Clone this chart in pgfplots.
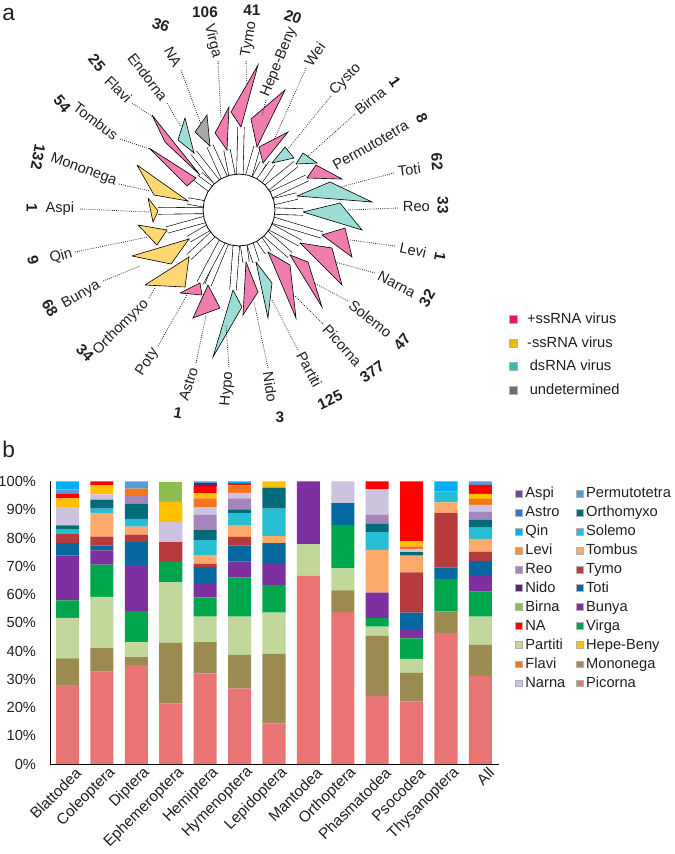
\documentclass[border=0pt]{standalone}
\usepackage{pgfplots}
\pgfplotsset{compat=1.18}
\usepackage{pgfplotstable}
\usepackage{fontspec}
\setmainfont{Liberation Sans}

% clade colours (tree) and legend colours
\definecolor{lab}{HTML}{231F20}
\definecolor{tP}{HTML}{F07DB0}
\definecolor{tY}{HTML}{FDD872}
\definecolor{tT}{HTML}{9CDED6}
\definecolor{tG}{HTML}{A8A8AA}
\definecolor{lP}{HTML}{D81E63}
\definecolor{lY}{HTML}{F5B51E}
\definecolor{lT}{HTML}{2FC0B0}
\definecolor{lG}{HTML}{707070}
% family colours (bars)
\definecolor{cPic}{HTML}{E87474}
\definecolor{cMon}{HTML}{9B8B50}
\definecolor{cPar}{HTML}{C2D79B}
\definecolor{cVir}{HTML}{00A64C}
\definecolor{cBun}{HTML}{7E2FA0}
\definecolor{cTot}{HTML}{0568A0}
\definecolor{cTym}{HTML}{B73B3B}
\definecolor{cTom}{HTML}{FBAA6C}
\definecolor{cLev}{HTML}{F6913D}
\definecolor{cSol}{HTML}{27BED4}
\definecolor{cOrt}{HTML}{006C7A}
\definecolor{cReo}{HTML}{A486BD}
\definecolor{cNar}{HTML}{CEC3DE}
\definecolor{cFla}{HTML}{F4761C}
\definecolor{cHep}{HTML}{FFC000}
\definecolor{cBir}{HTML}{8DBC4F}
\definecolor{cNA}{HTML}{FF0000}
\definecolor{cNid}{HTML}{4F2F6B}
\definecolor{cAst}{HTML}{2E78BE}
\definecolor{cAsp}{HTML}{6B4C8F}
\definecolor{cPer}{HTML}{5B9BD5}
\definecolor{cQin}{HTML}{00B0F0}

% share of each virus family per insect order, in percent
\pgfplotstableread{
x  Pic   Mon   Par   Vir   Bun   Tot  Tym  Tom  Lev Sol Ort Reo Nar Fla Hep Bir NA   Nid Ast Asp Per Qin
0  28.0  9.4   14.3  6.2   15.9  4.4  3.2  0    0   1.6 1.5 0   6.4 0   3.1 0   1.6  0   0   0   1.6 2.8
1  32.7  8.3   18.2  11.4  5.0   1.7  3.2  8.3  0   1.6 3.2 0   1.8 0   3.3 0   1.3  0   0   0   0   0
2  35.1  2.7   5.3   11.0  16.3  8.2  2.6  2.8  0   2.8 5.3 2.7 0   2.7 0   0   0    0   0   0   2.5 0
3  21.43 21.43 21.43 7.14  0     0    7.14 0    0   0   0   0   7.14 0  7.14 7.14 0  0   0   0   0   0
4  32.1  11.0  9.1   6.8   4.8   5.9  1.1  3.1  0   5.3 3.8 5.3 2.6 3.1 1.8 0   2.6  0.9 0   0   0.7 0
5  26.7  11.9  13.6  13.9  5.5   5.7  3.1  4.0  0   4.4 1.3 3.9 2.0 2.4 0.3 0   0.5  0   0.3 0   0   0.5
6  14.4  24.6  14.6  9.8   7.4   7.4  0    2.5  0   9.7 7.4 0   0   0   2.2 0   0    0   0   0   0   0
7  66.7  0     11.1  0     22.2  0    0    0    0   0   0   0   0   0   0   0   0    0   0   0   0   0
8  53.8  7.7   7.7   15.4  0     7.7  0    0    0   0   0   0   7.7 0   0   0   0    0   0   0   0   0
9  24.1  21.3  3.2   3.0   9.1   0    0    15.1 0   6.3 2.9 3.2 9.1 0   0   0   2.7  0   0   0   0   0
10 22.2  10.1  4.9   7.3   3.0   6.1  14.2 6.0  0   0   1.2 0   1.0 1.0 1.9 0   21.1 0   0   0   0   0
11 46.3  7.7   0     11.5  0     4.0  19.3 3.8  0   3.9 0   0   0   0   0   0   0    0   0   0   0   3.5
12 31.2  11.0  10.0  8.8   5.6   5.3  3.3  4.5  0   4.0 2.7 2.8 2.5 2.1 1.8 0   3.2  0   0   0   1.2 0
}\abund

\tikzset{
  br/.style={draw=black, line width=0.45pt, double=white, double distance=4.4pt},
  tri/.style={draw=black, line width=0.45pt},
  ldr/.style={densely dotted, line width=0.6pt, color=lab},
  lbl/.style={font=\fontsize{11}{13}\selectfont, text=lab, inner sep=0.5pt},
  cnt/.style={font=\fontsize{11.5}{13}\selectfont\bfseries, text=lab, inner sep=0pt},
}

\begin{document}
\begin{tikzpicture}
\path[use as bounding box] (0pt,0pt) rectangle (506.25pt,-640.5pt);

% ---------------- panel a: collapsed tree, pixel coordinates ----------------
\begin{axis}[
    at={(0pt,0pt)}, anchor=north west,
    scale only axis, width=506.25pt, height=345pt,
    xmin=0, xmax=675, ymin=0, ymax=460, y dir=reverse,
    enlargelimits=false, hide axis, clip=false,
]
% branches
\addplot[br] coordinates {(239,210) (200,175)};
\addplot[br] coordinates {(239,210) (196,178)};
\addplot[br] coordinates {(239,210) (194,153)};
\addplot[br] coordinates {(239,210) (210,146)};
\addplot[br] coordinates {(239,210) (227,150)};
\addplot[br] coordinates {(239,210) (241,127)};
\addplot[br] coordinates {(239,210) (257,147)};
\addplot[br] coordinates {(239,210) (263,163)};
\addplot[br] coordinates {(239,210) (272,163)};
\addplot[br] coordinates {(239,210) (296,164)};
\addplot[br] coordinates {(239,210) (307,178)};
\addplot[br] coordinates {(239,210) (297,196)};
\addplot[br] coordinates {(239,210) (303,212)};
\addplot[br] coordinates {(239,210) (322,235)};
\addplot[br] coordinates {(239,210) (300,243)};
\addplot[br] coordinates {(239,210) (290,255)};
\addplot[br] coordinates {(239,210) (268,252)};
\addplot[br] coordinates {(239,210) (256,262)};
\addplot[br] coordinates {(239,210) (246,262)};
\addplot[br] coordinates {(239,210) (233,290)};
\addplot[br] coordinates {(239,210) (208,285)};
\addplot[br] coordinates {(239,210) (200,283)};
\addplot[br] coordinates {(239,210) (189,257)};
\addplot[br] coordinates {(239,210) (189,239)};
\addplot[br] coordinates {(239,210) (167,230)};
\addplot[br] coordinates {(239,210) (158,211)};
\addplot[br] coordinates {(239,210) (188,201)};
% root circle
\addplot[fill=white, draw=black, line width=0.6pt] coordinates {
 (275,210) (273.8,200.7) (270.2,192) (264.5,184.5) (257,178.8) (248.3,175.2)
 (239,174) (229.7,175.2) (221,178.8) (213.5,184.5) (207.8,192) (204.2,200.7)
 (203,210) (204.2,219.3) (207.8,228) (213.5,235.5) (221,241.2) (229.7,244.8)
 (239,246) (248.3,244.8) (257,241.2) (264.5,235.5) (270.2,228) (273.8,219.3) (275,210)};
% clades
\addplot[tri, fill=tP] coordinates {(152,115) (165,142) (200,175) (152,115)}; % Flavi
\addplot[tri, fill=tP] coordinates {(149,148) (196,178) (187,186) (149,148)}; % Tombus
\addplot[tri, fill=tT] coordinates {(178,140) (185,118) (194,153) (178,140)}; % Endorna
\addplot[tri, fill=tG] coordinates {(195,132) (207,115) (210,146) (195,132)}; % NA
\addplot[tri, fill=tP] coordinates {(215,133) (229,107) (227,150) (215,133)}; % Virga
\addplot[tri, fill=tP] coordinates {(231,112) (258,65) (241,127) (231,112)}; % Tymo
\addplot[tri, fill=tP] coordinates {(251,119) (285,90) (257,147) (251,119)}; % Hepe-Beny
\addplot[tri, fill=tP] coordinates {(259,147) (288,132) (263,163) (259,147)}; % Wei
\addplot[tri, fill=tT] coordinates {(272,163) (285,147) (294,158) (272,163)}; % Cysto
\addplot[tri, fill=tT] coordinates {(296,164) (303,153) (317,163) (296,164)}; % Birna
\addplot[tri, fill=tP] coordinates {(307,178) (316,165) (342,179) (307,178)}; % Permutotetra
\addplot[tri, fill=tT] coordinates {(297,196) (330,182) (372,202) (297,196)}; % Toti
\addplot[tri, fill=tT] coordinates {(303,212) (340,203) (362,230) (303,212)}; % Reo
\addplot[tri, fill=tP] coordinates {(322,235) (345,228) (352,257) (322,235)}; % Levi
\addplot[tri, fill=tP] coordinates {(300,243) (332,248) (342,285) (300,243)}; % Narna
\addplot[tri, fill=tP] coordinates {(290,255) (308,262) (322,307) (290,255)}; % Solemo
\addplot[tri, fill=tP] coordinates {(268,252) (290,265) (296,318) (268,252)}; % Picorna
\addplot[tri, fill=tT] coordinates {(256,262) (272,283) (268,318) (256,262)}; % Partiti
\addplot[tri, fill=tP] coordinates {(246,262) (258,292) (243,315) (246,262)}; % Nido
\addplot[tri, fill=tT] coordinates {(233,290) (242,307) (213,357) (233,290)}; % Hypo
\addplot[tri, fill=tP] coordinates {(208,285) (220,308) (193,318) (208,285)}; % Astro
\addplot[tri, fill=tP] coordinates {(180,293) (200,283) (202,295) (180,293)}; % Poty
\addplot[tri, fill=tY] coordinates {(145,285) (189,257) (185,287) (145,285)}; % Orthomyxo
\addplot[tri, fill=tY] coordinates {(132,256) (189,239) (171,264) (132,256)}; % Bunya
\addplot[tri, fill=tY] coordinates {(138,225) (167,230) (157,245) (138,225)}; % Qin
\addplot[tri, fill=tY] coordinates {(148,198) (158,211) (153,222) (148,198)}; % Aspi
\addplot[tri, fill=tY] coordinates {(137,165) (188,201) (154,195) (137,165)}; % Mononega
% leader lines
\addplot[ldr] coordinates {(119,184) (150,191)};
\addplot[ldr] coordinates {(80,209) (149,212)};
\addplot[ldr] coordinates {(75,252) (148,237)};
\addplot[ldr] coordinates {(103,281) (140,266)};
\addplot[ldr] coordinates {(149,298) (155,288)};
\addplot[ldr] coordinates {(158,346) (188,293)};
\addplot[ldr] coordinates {(196,363) (206,316)};
\addplot[ldr] coordinates {(229,367) (226,325)};
\addplot[ldr] coordinates {(268,368) (254,302)};
\addplot[ldr] coordinates {(298,350) (272,300)};
\addplot[ldr] coordinates {(323,324) (295,296)};
\addplot[ldr] coordinates {(348,301) (314,283)};
\addplot[ldr] coordinates {(375,273) (335,262)};
\addplot[ldr] coordinates {(395,246) (350,240)};
\addplot[ldr] coordinates {(398,208) (347,210)};
\addplot[ldr] coordinates {(394,173) (340,187)};
\addplot[ldr] coordinates {(355,114) (308,156)};
\addplot[ldr] coordinates {(331,96) (287,150)};
\addplot[ldr] coordinates {(306,68) (274,140)};
\addplot[ldr] coordinates {(266,100) (262,116)};
\addplot[ldr] coordinates {(246,61) (247,84)};
\addplot[ldr] coordinates {(218,61) (221,118)};
\addplot[ldr] coordinates {(181,70) (201,124)};
\addplot[ldr] coordinates {(167,103) (181,127)};
\addplot[ldr] coordinates {(132,103) (153,117)};
\addplot[ldr] coordinates {(120,139) (150,149)};
% clade names
\node[lbl, anchor=east, rotate=-20] at (axis cs:117,182) {Mononega};
\node[lbl, anchor=east] at (axis cs:75,209) {Aspi};
\node[lbl, anchor=east, rotate=15] at (axis cs:73,253) {Qin};
\node[lbl, anchor=east, rotate=30] at (axis cs:100,284) {Bunya};
\node[lbl, anchor=east, rotate=45] at (axis cs:147,301) {Orthomyxo};
\node[lbl, anchor=east, rotate=57] at (axis cs:156,349) {Poty};
\node[lbl, anchor=east, rotate=72] at (axis cs:194,367) {Astro};
\node[lbl, anchor=east, rotate=85] at (axis cs:229,371) {Hypo};
\node[lbl, anchor=west, rotate=-82] at (axis cs:268,371) {Nido};
\node[lbl, anchor=west, rotate=-62] at (axis cs:300,352) {Partiti};
\node[lbl, anchor=west, rotate=-48] at (axis cs:325,326) {Picorna};
\node[lbl, anchor=west, rotate=-38] at (axis cs:350,303) {Solemo};
\node[lbl, anchor=west, rotate=-27] at (axis cs:378,275) {Narna};
\node[lbl, anchor=west, rotate=-12] at (axis cs:399,247) {Levi};
\node[lbl, anchor=west] at (axis cs:402,207) {Reo};
\node[lbl, anchor=west, rotate=7] at (axis cs:397,171) {Toti};
\node[lbl, anchor=west, rotate=30] at (axis cs:333,167) {Permutotetra};
\node[lbl, anchor=west, rotate=38] at (axis cs:356,112) {Birna};
\node[lbl, anchor=west, rotate=46] at (axis cs:332,94) {Cysto};
\node[lbl, anchor=west, rotate=55] at (axis cs:307,65) {Wei};
\node[lbl, anchor=west, rotate=68] at (axis cs:265,97) {Hepe-Beny};
\node[lbl, anchor=west, rotate=80] at (axis cs:246,58) {Tymo};
\node[lbl, anchor=east, rotate=-76] at (axis cs:217,58) {Virga};
\node[lbl, anchor=east, rotate=-62] at (axis cs:178,67) {NA};
\node[lbl, anchor=east, rotate=-53] at (axis cs:165,100) {Endorna};
\node[lbl, anchor=east, rotate=-45] at (axis cs:130,101) {Flavi};
\node[lbl, anchor=east, rotate=-37] at (axis cs:117,137) {Tombus};
% counts
\node[cnt, rotate=-50] at (axis cs:62,104) {54};
\node[cnt, rotate=-50] at (axis cs:97,63) {25};
\node[cnt, rotate=-20] at (axis cs:161,25) {36};
\node[cnt] at (axis cs:205,12) {106};
\node[cnt] at (axis cs:252,10) {41};
\node[cnt, rotate=-20] at (axis cs:293,17) {20};
\node[cnt, rotate=-55] at (axis cs:395,82) {1};
\node[cnt, rotate=-65] at (axis cs:422,118) {8};
\node[cnt, rotate=-85] at (axis cs:437,162) {62};
\node[cnt, rotate=-90] at (axis cs:443,205) {33};
\node[cnt, rotate=-100] at (axis cs:440,257) {1};
\node[cnt, rotate=60] at (axis cs:427,298) {32};
\node[cnt, rotate=50] at (axis cs:402,342) {47};
\node[cnt, rotate=35] at (axis cs:372,372) {377};
\node[cnt, rotate=25] at (axis cs:330,400) {125};
\node[cnt] at (axis cs:280,417) {3};
\node[cnt, rotate=-10] at (axis cs:178,413) {1};
\node[cnt, rotate=-45] at (axis cs:85,353) {34};
\node[cnt, rotate=-60] at (axis cs:50,308) {68};
\node[cnt, rotate=-75] at (axis cs:33,260) {9};
\node[cnt, rotate=-90] at (axis cs:32,208) {1};
\node[cnt, rotate=-100] at (axis cs:38,157) {132};
% panel letters
\node[font=\fontsize{17}{20}\selectfont, text=lab, anchor=base west, inner sep=0pt] at (axis cs:2,20) {a};
\node[font=\fontsize{17}{20}\selectfont, text=lab, anchor=base west, inner sep=0pt] at (axis cs:2,457) {b};
\end{axis}

% legend of panel a, in a small axis of its own
\begin{axis}[
    at={(381.75pt,-232.3pt)}, anchor=north west,
    scale only axis, width=10pt, height=10pt,
    xmin=0, xmax=1, ymin=0, ymax=1, hide axis,
    legend cell align=left,
    legend image code/.code={\draw[#1] (0pt,-3pt) rectangle (6pt,3pt);},
    legend style={draw=none, at={(0,1)}, anchor=north west,
        font=\fontsize{11}{13}\selectfont, text=lab, inner sep=0pt, row sep=4.4pt,
        /tikz/every odd column/.append style={column sep=5pt}},
]
\addlegendimage{fill=lP, draw=gray!60}
\addlegendentry{+ssRNA virus}
\addlegendimage{fill=lY, draw=gray!60}
\addlegendentry{-ssRNA virus}
\addlegendimage{fill=lT, draw=gray!60}
\addlegendentry{\hspace{2pt}dsRNA virus}
\addlegendimage{fill=lG, draw=gray!60}
\addlegendentry{\hspace{2pt}undetermined}
\end{axis}

% ---------------- panel b: stacked bars ----------------
\begin{axis}[
    at={(37.5pt,-573pt)}, anchor=south west,
    scale only axis, width=336.75pt, height=211.9pt,
    ybar stacked, bar width=0.67,
    xmin=-0.51, xmax=12.54, ymin=0, ymax=100, enlargelimits=false,
    axis lines*=left, axis line style={black, line width=0.6pt},
    xtick={0,...,12},
    xticklabels={Blattodea,Coleoptera,Diptera,Ephemeroptera,Hemiptera,Hymenoptera,Lepidoptera,Mantodea,Orthoptera,Phasmatodea,Psocodea,Thysanoptera,All},
    ytick={0,10,20,30,40,50,60,70,80,90,100},
    yticklabels={0\%,10\%,20\%,30\%,40\%,50\%,60\%,70\%,80\%,90\%,100\%},
    major tick length=0pt,
    tick label style={font=\fontsize{11}{13}\selectfont, text=lab},
    yticklabel style={xshift=-7pt},
    xticklabel style={font=\fontsize{11.5}{13}\selectfont, rotate=45, anchor=east, xshift=6pt, yshift=-9pt},
    legend columns=2, legend cell align=left,
    legend image code/.code={\draw[#1] (0pt,-2.6pt) rectangle (5.2pt,2.6pt);},
    legend style={draw=none, at={(rel axis cs:1.0356,0.99)}, anchor=north west,
        font=\fontsize{11}{13}\selectfont, text=lab, inner sep=0pt, row sep=0.8pt,
        /tikz/every even column/.append style={column sep=6pt}},
]
\pgfplotsinvokeforeach{Pic,Mon,Par,Vir,Bun,Tot,Tym,Tom,Lev,Sol,Ort,Reo,Nar,Fla,Hep,Bir,NA,Nid,Ast,Asp,Per,Qin}{
  \addplot[fill=c#1, draw=none, forget plot] table[x=x, y=#1] {\abund};
}
\addlegendimage{fill=cAsp, draw=gray!60}\addlegendentry{Aspi}
\addlegendimage{fill=cPer, draw=gray!60}\addlegendentry{Permutotetra}
\addlegendimage{fill=cAst, draw=gray!60}\addlegendentry{Astro}
\addlegendimage{fill=cOrt, draw=gray!60}\addlegendentry{Orthomyxo}
\addlegendimage{fill=cQin, draw=gray!60}\addlegendentry{Qin}
\addlegendimage{fill=cSol, draw=gray!60}\addlegendentry{Solemo}
\addlegendimage{fill=cLev, draw=gray!60}\addlegendentry{Levi}
\addlegendimage{fill=cTom, draw=gray!60}\addlegendentry{Tombus}
\addlegendimage{fill=cReo, draw=gray!60}\addlegendentry{Reo}
\addlegendimage{fill=cTym, draw=gray!60}\addlegendentry{Tymo}
\addlegendimage{fill=cNid, draw=gray!60}\addlegendentry{Nido}
\addlegendimage{fill=cTot, draw=gray!60}\addlegendentry{Toti}
\addlegendimage{fill=cBir, draw=gray!60}\addlegendentry{Birna}
\addlegendimage{fill=cBun, draw=gray!60}\addlegendentry{Bunya}
\addlegendimage{fill=cNA, draw=gray!60}\addlegendentry{NA}
\addlegendimage{fill=cVir, draw=gray!60}\addlegendentry{Virga}
\addlegendimage{fill=cPar, draw=gray!60}\addlegendentry{Partiti}
\addlegendimage{fill=cHep, draw=gray!60}\addlegendentry{Hepe-Beny}
\addlegendimage{fill=cFla, draw=gray!60}\addlegendentry{Flavi}
\addlegendimage{fill=cMon, draw=gray!60}\addlegendentry{Mononega}
\addlegendimage{fill=cNar, draw=gray!60}\addlegendentry{Narna}
\addlegendimage{fill=cPic, draw=gray!60}\addlegendentry{Picorna}
\end{axis}
\end{tikzpicture}
\end{document}
